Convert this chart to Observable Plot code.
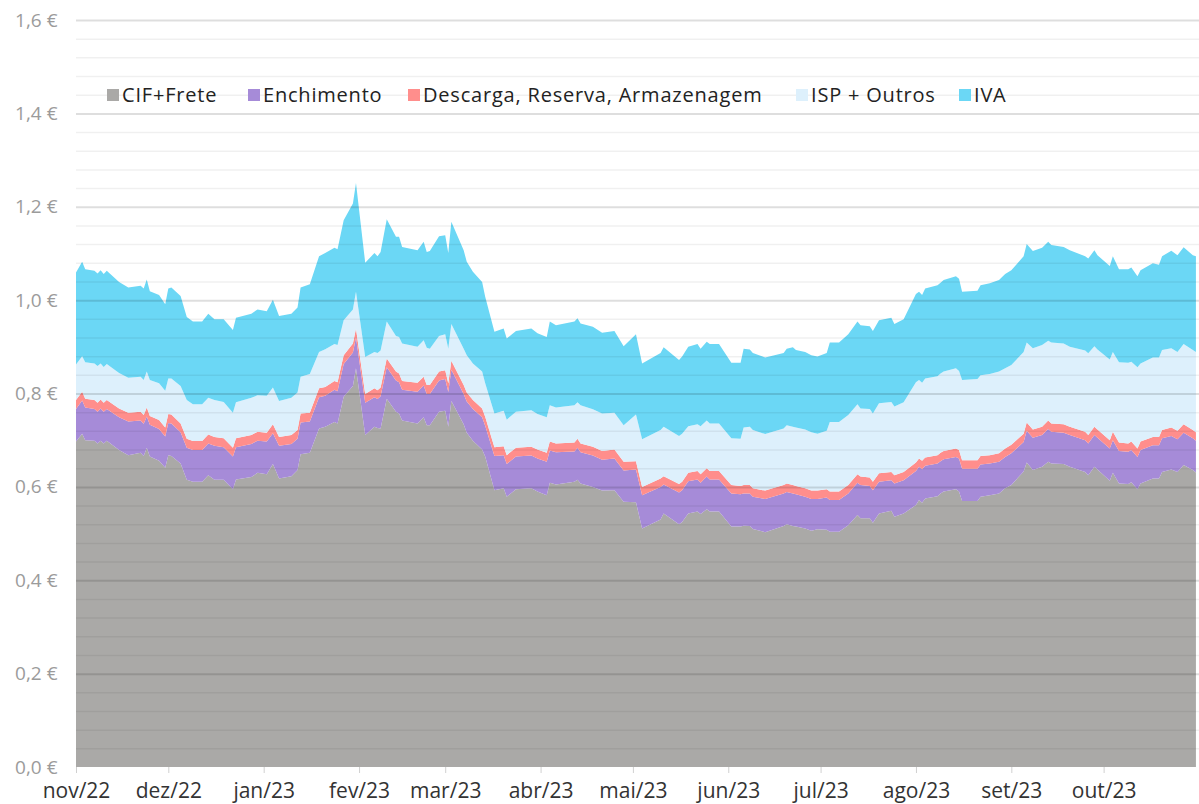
<!DOCTYPE html>
<html><head><meta charset="utf-8">
<script src="https://cdn.jsdelivr.net/npm/d3@7"></script>
<script src="https://cdn.jsdelivr.net/npm/@observablehq/plot@0.6"></script>
<style>
body{margin:0;background:#fff;font-family:"Open Sans",sans-serif;}
#wrap{position:relative;width:1199px;height:804px;overflow:hidden}
.item{position:absolute;top:82px;display:flex;align-items:center;font-size:20px;letter-spacing:0.8px;color:#222;white-space:nowrap;line-height:26px}
.sw{width:12px;height:12px;margin-right:3px;flex:none}
</style></head><body><div id="wrap"><div id="chart"></div></div>
<script>
const seriesNames = ["CIF+Frete","Enchimento","Descarga, Reserva, Armazenagem","ISP + Outros","IVA"];
const seriesColors = ["#aaa9a7","#a68bd8","#ff8e8c","#ddf0fc","#6bd7f5"];
const monthLabels = ["nov/22","dez/22","jan/23","fev/23","mar/23","abr/23","mai/23","jun/23","jul/23","ago/23","set/23","out/23"];
const monthDates = ["2022-11-01","2022-12-01","2023-01-01","2023-02-01","2023-03-01","2023-04-01","2023-05-01","2023-06-01","2023-07-01","2023-08-01","2023-09-01","2023-10-01","2023-11-01"];
const yTickValues = [0,0.2,0.4,0.6,0.8,1.0,1.2,1.4,1.6];

const dates = ["2022-11-01","2022-11-03","2022-11-04","2022-11-07","2022-11-08","2022-11-09","2022-11-10","2022-11-11","2022-11-15","2022-11-18","2022-11-22","2022-11-23","2022-11-24","2022-11-25","2022-11-28","2022-11-30",
"2022-12-01","2022-12-02","2022-12-05","2022-12-07","2022-12-09","2022-12-12","2022-12-14","2022-12-16","2022-12-19","2022-12-22","2022-12-23","2022-12-28","2022-12-30",
"2023-01-02","2023-01-04","2023-01-06","2023-01-10","2023-01-12","2023-01-13","2023-01-16","2023-01-19","2023-01-21","2023-01-24","2023-01-25","2023-01-27","2023-01-30","2023-01-31",
"2023-02-03","2023-02-06","2023-02-07","2023-02-08","2023-02-10","2023-02-13","2023-02-14","2023-02-15","2023-02-20","2023-02-22","2023-02-23","2023-02-24","2023-02-27",
"2023-03-01","2023-03-02","2023-03-03","2023-03-07","2023-03-08","2023-03-10","2023-03-13","2023-03-14","2023-03-17","2023-03-20","2023-03-21","2023-03-24","2023-03-29","2023-03-31",
"2023-04-03","2023-04-04","2023-04-06","2023-04-12","2023-04-13","2023-04-14","2023-04-18","2023-04-21","2023-04-25","2023-04-28",
"2023-05-02","2023-05-04","2023-05-10","2023-05-11","2023-05-16","2023-05-17","2023-05-19","2023-05-22","2023-05-23","2023-05-25","2023-05-26","2023-05-29",
"2023-06-02","2023-06-05","2023-06-06","2023-06-08","2023-06-09","2023-06-13","2023-06-19","2023-06-20","2023-06-22","2023-06-23","2023-06-26","2023-06-28","2023-06-30",
"2023-07-03","2023-07-04","2023-07-07","2023-07-10","2023-07-13","2023-07-14","2023-07-17","2023-07-18","2023-07-20","2023-07-24","2023-07-25","2023-07-28",
"2023-08-01","2023-08-02","2023-08-03","2023-08-04","2023-08-08","2023-08-09","2023-08-10","2023-08-14","2023-08-15","2023-08-16","2023-08-21","2023-08-22","2023-08-25","2023-08-28","2023-08-30",
"2023-09-01","2023-09-05","2023-09-06","2023-09-08","2023-09-11","2023-09-13","2023-09-14","2023-09-18","2023-09-20","2023-09-25","2023-09-26","2023-09-28","2023-09-29",
"2023-10-03","2023-10-04","2023-10-06","2023-10-09","2023-10-10","2023-10-12","2023-10-13","2023-10-17","2023-10-19","2023-10-20","2023-10-23","2023-10-25","2023-10-27","2023-10-30","2023-10-31"];

const cifFrete = [.697,.714,.700,.699,.693,.699,.693,.699,.679,.668,.673,.666,.684,.665,.656,.641,
.668,.666,.650,.615,.611,.611,.625,.615,.615,.595,.616,.621,.630,
.627,.649,.618,.623,.636,.670,.673,.725,.729,.739,.736,.793,.816,.854,
.711,.729,.726,.725,.789,.761,.757,.742,.736,.749,.732,.732,.761,
.763,.729,.784,.734,.716,.699,.680,.665,.593,.597,.579,.595,.597,.590,
.582,.609,.605,.611,.615,.607,.600,.592,.593,.568,
.567,.511,.530,.543,.520,.525,.543,.547,.542,.552,.547,.547,
.515,.515,.517,.516,.510,.503,.516,.520,.516,.515,.511,.506,.509,
.508,.504,.504,.518,.540,.533,.533,.523,.543,.549,.536,.543,
.561,.572,.566,.575,.580,.586,.590,.595,.590,.570,.570,.579,.582,.586,.597,
.604,.633,.652,.636,.643,.654,.650,.649,.643,.632,.625,.643,.637,
.613,.630,.607,.606,.610,.595,.607,.618,.618,.632,.637,.632,.647,.636,.631];

const enchimento = [.070,.071,.070,.068,.068,.069,.068,.068,.070,.072,.069,.069,.067,.068,.068,.067,
.069,.070,.067,.069,.068,.068,.068,.073,.070,.070,.069,.071,.069,
.070,.066,.070,.069,.067,.068,.067,.067,.066,.069,.069,.070,.072,.066,
.069,.063,.062,.069,.067,.067,.067,.066,.068,.068,.067,.067,.067,
.068,.074,.067,.065,.067,.068,.069,.066,.073,.071,.070,.070,.070,.071,
.072,.069,.069,.065,.069,.067,.067,.066,.068,.067,
.070,.071,.070,.062,.068,.068,.069,.069,.067,.070,.069,.069,
.071,.069,.069,.070,.069,.071,.070,.069,.070,.069,.068,.068,.065,
.069,.068,.068,.068,.069,.071,.069,.070,.068,.065,.071,.071,
.073,.071,.072,.070,.070,.069,.069,.069,.071,.069,.069,.069,.068,.068,.067,
.068,.063,.068,.069,.068,.070,.068,.067,.068,.068,.068,.068,.068,
.069,.070,.070,.069,.069,.069,.072,.071,.071,.072,.072,.070,.069,.068,.068];

const descarga = [.019,.019,.019,.019,.019,.019,.019,.019,.019,.019,.019,.019,.019,.019,.019,.019,
.019,.019,.019,.019,.019,.019,.019,.019,.019,.019,.019,.019,.019,
.019,.019,.019,.019,.019,.019,.019,.019,.019,.019,.019,.019,.019,.019,
.019,.019,.019,.019,.019,.019,.019,.019,.019,.019,.019,.019,.019,
.019,.019,.019,.019,.019,.019,.019,.019,.019,.019,.019,.019,.019,.019,
.019,.019,.019,.019,.019,.019,.019,.019,.019,.019,
.018,.018,.018,.018,.018,.018,.018,.018,.018,.018,.018,.018,
.018,.018,.018,.018,.018,.018,.018,.018,.018,.018,.018,.018,.018,
.018,.018,.018,.018,.018,.018,.018,.018,.018,.018,.018,.018,
.018,.018,.018,.018,.018,.018,.018,.018,.018,.018,.018,.018,.018,.018,.018,
.018,.018,.018,.018,.018,.018,.018,.018,.018,.018,.018,.018,.018,
.018,.018,.018,.018,.018,.018,.018,.018,.018,.018,.018,.018,.018,.018,.018];

const ispOutros = [.076,.076,.078,.078,.079,.077,.077,.077,.076,.075,.075,.075,.077,.077,.079,.079,
.076,.077,.080,.083,.079,.079,.079,.079,.078,.075,.077,.080,.078,
.079,.079,.077,.080,.080,.079,.083,.078,.081,.079,.080,.075,.073,.079,
.079,.078,.080,.079,.079,.076,.078,.080,.077,.078,.080,.078,.076,
.077,.074,.079,.078,.080,.078,.079,.072,.072,.076,.076,.077,.078,.076,
.076,.078,.077,.080,.078,.082,.080,.080,.079,.078,
.100,.102,.104,.106,.103,.103,.100,.100,.103,.102,.102,.102,
.100,.101,.123,.125,.125,.121,.121,.125,.125,.125,.126,.125,.122,
.125,.149,.149,.150,.150,.146,.147,.146,.150,.150,.147,.149,
.172,.168,.167,.169,.169,.170,.170,.172,.169,.172,.174,.173,.174,.175,.172,
.171,.175,.171,.174,.175,.171,.173,.173,.171,.174,.175,.172,.171,
.173,.171,.172,.173,.171,.174,.167,.170,.170,.171,.170,.169,.172,.171,.172];

const iva = [.197,.202,.199,.199,.198,.200,.199,.200,.195,.193,.195,.196,.197,.190,.189,.185,
.193,.195,.193,.178,.177,.177,.180,.173,.177,.177,.181,.180,.184,
.181,.188,.182,.180,.182,.191,.192,.205,.206,.206,.205,.214,.227,.233,
.202,.212,.207,.211,.219,.213,.215,.207,.207,.211,.205,.209,.214,
.212,.205,.219,.211,.200,.197,.192,.185,.175,.176,.174,.173,.175,.173,
.172,.179,.176,.179,.180,.175,.177,.173,.175,.169,
.172,.162,.165,.170,.163,.165,.170,.172,.166,.169,.170,.170,
.162,.163,.169,.165,.165,.164,.162,.164,.170,.166,.166,.165,.165,
.167,.170,.170,.173,.177,.178,.177,.177,.178,.180,.177,.178,
.189,.189,.188,.193,.195,.194,.196,.197,.198,.189,.189,.193,.194,.196,.202,
.203,.205,.211,.208,.208,.212,.209,.207,.207,.202,.203,.206,.202,
.200,.205,.199,.200,.202,.195,.200,.202,.199,.201,.209,.207,.207,.203,.205];

const seriesValues = [cifFrete, enchimento, descarga, ispOutros, iva];
const rows = [];
dates.forEach((d, i) => {
  seriesNames.forEach((s, k) => rows.push({date: new Date(d + "T00:00:00Z"), series: s, value: seriesValues[k][i]}));
});

const minorTicks = d3.range(0, 1.6001, 0.04).filter(v => Math.abs(v / 0.2 - Math.round(v / 0.2)) > 1e-6);
const monthTicks = monthDates.map(d => new Date(d + "T00:00:00Z"));

const chart = Plot.plot({
  width: 1199, height: 804,
  marginLeft: 76, marginRight: 0, marginTop: 20, marginBottom: 37,
  style: {fontFamily: '"Open Sans", sans-serif', background: "#fff", overflow: "visible"},
  x: {type: "utc", domain: [new Date("2022-11-01T00:00:00Z"), new Date("2023-11-01T00:00:00Z")], label: null},
  y: {domain: [0, 1.6], label: null},
  color: {domain: seriesNames, range: seriesColors},
  marks: [
    Plot.areaY(rows, {x: "date", y: "value", fill: "series", order: seriesNames, curve: "linear"}),
    Plot.ruleY(minorTicks, {stroke: "#000", strokeOpacity: 0.06, strokeWidth: 1.5}),
    Plot.ruleY(yTickValues.slice(1), {stroke: "#000", strokeOpacity: 0.13, strokeWidth: 2}),
    Plot.axisY({ticks: yTickValues, tickSize: 0, tickPadding: 19, fontSize: 19, fill: "#9b9b9b",
      tickFormat: d => d.toFixed(1).replace(".", ",") + " €", label: null}),
    Plot.axisX({ticks: monthTicks, tickSize: 6, tickPadding: 10, fontSize: 21, fill: "#333", stroke: "#d0d0d0",
      letterSpacing: 0.8, tickFormat: (d, i) => monthLabels[i] ?? "", label: null})
  ]
});
const wrap = document.getElementById("wrap");
document.getElementById("chart").appendChild(chart);

const legendLeft = [107, 248, 408, 796, 959];
seriesNames.forEach((s, k) => {
  const it = document.createElement("div");
  it.className = "item";
  it.style.left = legendLeft[k] + "px";
  const sw = document.createElement("span");
  sw.className = "sw"; sw.style.background = seriesColors[k];
  it.appendChild(sw);
  it.appendChild(document.createTextNode(s));
  wrap.appendChild(it);
});
</script></body></html>
